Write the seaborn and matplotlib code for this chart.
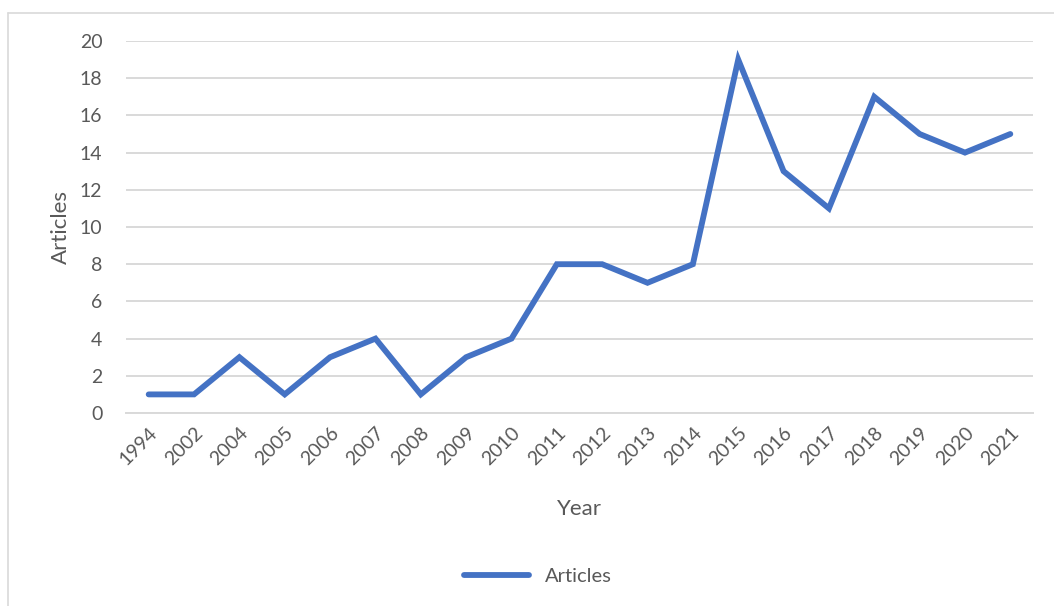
import pandas as pd
import matplotlib.pyplot as plt
import seaborn as sns
from matplotlib.lines import Line2D

years = ['1994', '2002', '2004', '2005', '2006', '2007', '2008', '2009', '2010', '2011',
         '2012', '2013', '2014', '2015', '2016', '2017', '2018', '2019', '2020', '2021']
articles = [1, 1, 3, 1, 3, 4, 1, 3, 4, 8, 8, 7, 8, 19, 13, 11, 17, 15, 14, 15]

df = pd.DataFrame({'Year': years, 'Articles': articles})

sns.set_style('white')
plt.rcParams['font.family'] = ['Lato', 'DejaVu Sans']

blue = '#4472C4'
grey_text = '#595959'

fig = plt.figure(figsize=(10.54, 6.06), dpi=100)
ax = fig.add_axes([126 / 1054, 1 - 413 / 606, (1033 - 126) / 1054, (413 - 41) / 606])

sns.lineplot(data=df, x='Year', y='Articles', ax=ax, sort=False, color=blue,
             linewidth=4.2, solid_capstyle='round', solid_joinstyle='miter')

ax.set_xlim(-0.5, len(years) - 0.5)
ax.set_ylim(0, 20)
ax.set_yticks(range(0, 21, 2))
ax.grid(axis='y', color='#d9d9d9', linewidth=1.4)
ax.set_axisbelow(True)
for s in ['top', 'right', 'left']:
    ax.spines[s].set_visible(False)
ax.spines['bottom'].set_color('#d9d9d9')
ax.spines['bottom'].set_linewidth(1.4)
ax.tick_params(axis='both', length=0, labelsize=14, labelcolor=grey_text)
ax.tick_params(axis='y', pad=17)
plt.setp(ax.get_xticklabels(), rotation=45, ha='right', rotation_mode='anchor')
ax.tick_params(axis='x', pad=8)

ax.set_xlabel('Year', fontsize=16, color=grey_text, labelpad=22)
ax.set_ylabel('Articles', fontsize=16, color=grey_text, labelpad=6)

handle = Line2D([0], [0], color=blue, linewidth=4.2, solid_capstyle='round')
fig.legend([handle], ['Articles'], loc='center', bbox_to_anchor=(538 / 1054, 1 - 576 / 606),
           frameon=False, fontsize=14.5, labelcolor=grey_text, handlelength=3.2)

# chart border (left and top edges visible)
fig.add_artist(Line2D([8 / 1054, 8 / 1054], [0, 1 - 13 / 606], color='#d9d9d9', linewidth=1.2,
                      transform=fig.transFigure))
fig.add_artist(Line2D([8 / 1054, 1], [1 - 13 / 606, 1 - 13 / 606], color='#d9d9d9', linewidth=1.2,
                      transform=fig.transFigure))

fig.savefig('out.png', dpi=100)
